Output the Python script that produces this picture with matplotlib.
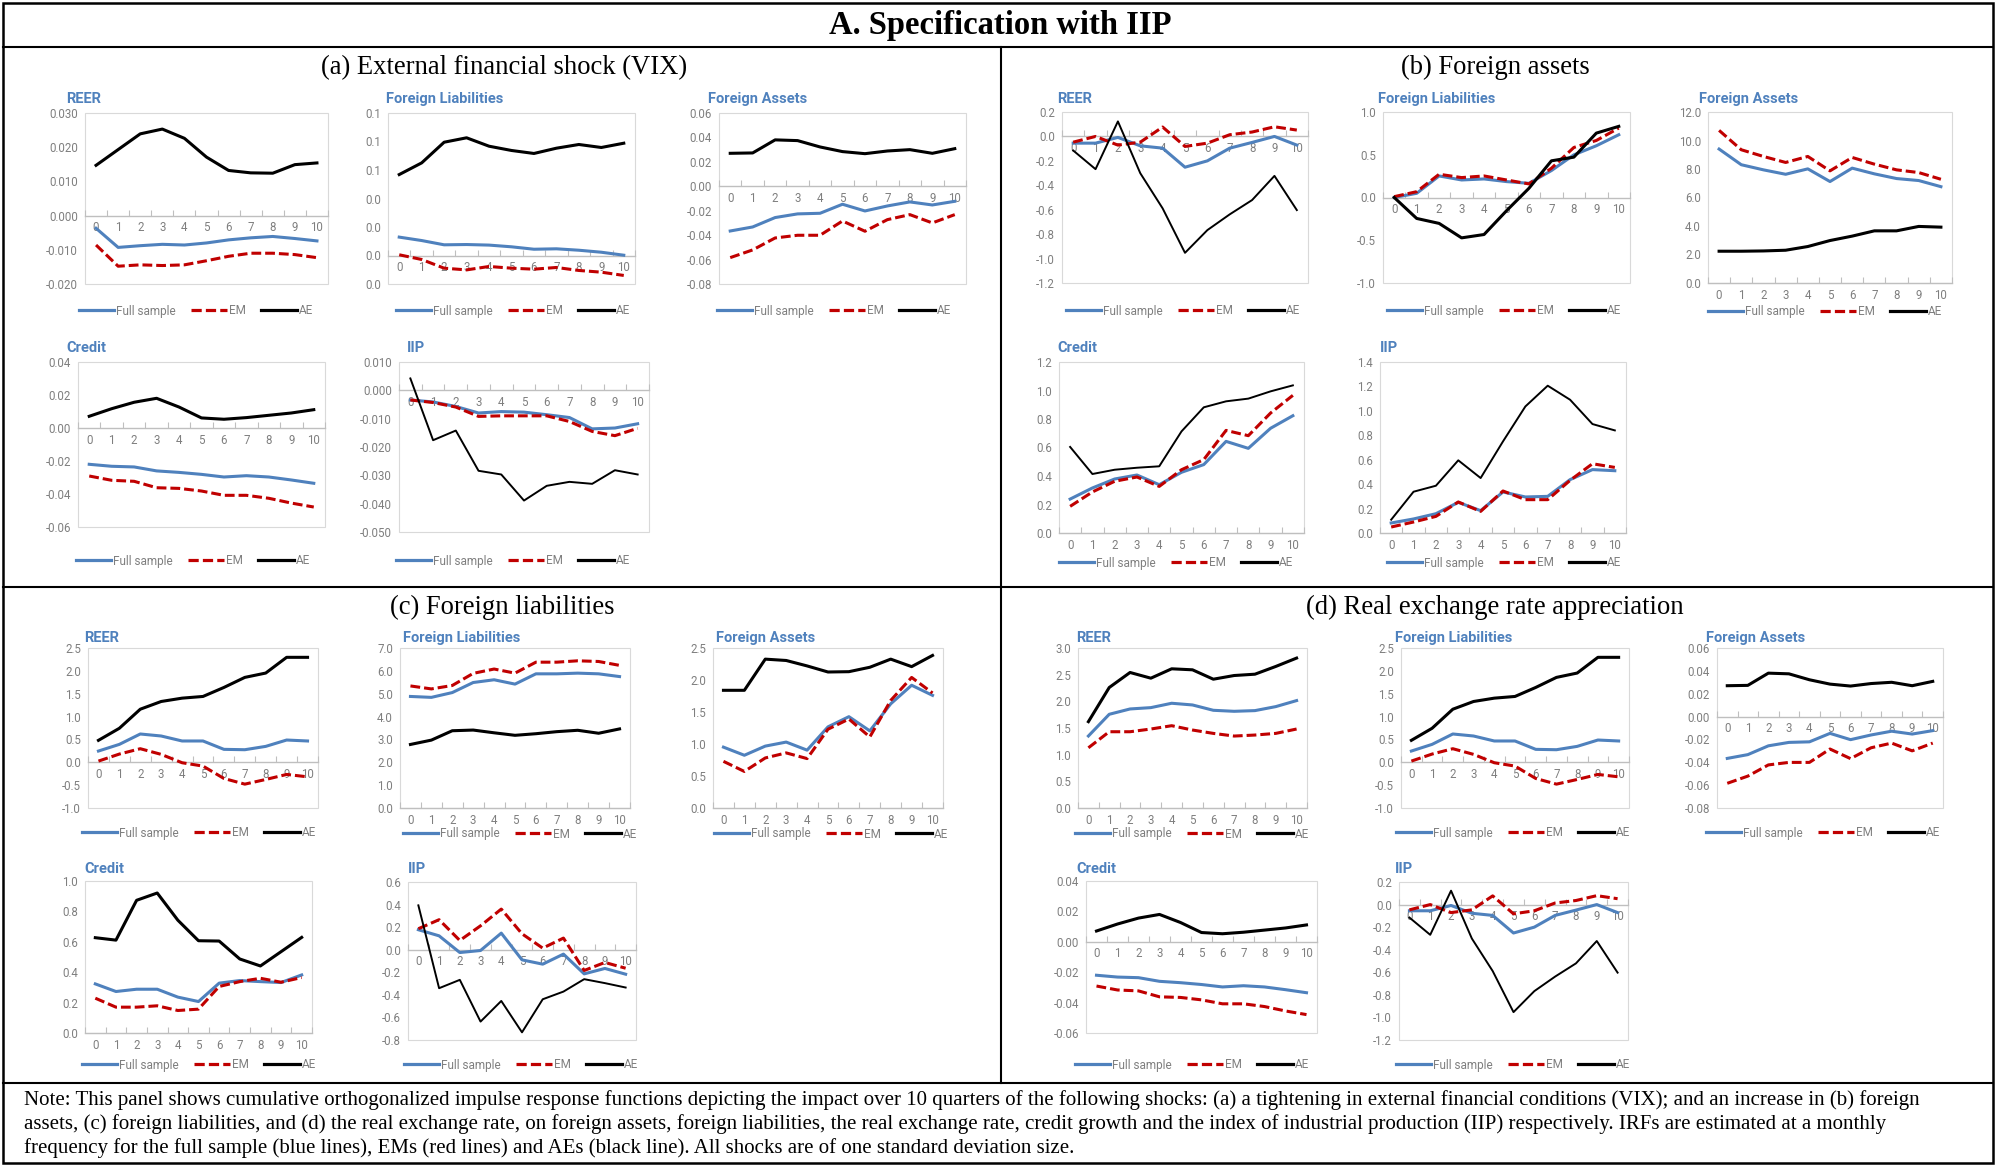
import numpy as np
import matplotlib
matplotlib.use("Agg")
import matplotlib.pyplot as plt
from matplotlib.lines import Line2D
from matplotlib.patches import Rectangle
from matplotlib.ticker import FixedLocator, FuncFormatter

plt.rcParams["font.family"] = ["Roboto", "DejaVu Sans"]

W, H = 1997, 1165
BLUE = "#4F81BD"
RED = "#C00000"
GREY = "#7F7F7F"
DASH = (0, (3.2, 1.3))

quarters = list(range(11))
series_names = ["Full sample", "EM", "AE"]

# (a) external financial shock (VIX)
a_reer_full = [-0.0037, -0.0093, -0.0088, -0.0084, -0.0086, -0.0080, -0.0071, -0.0065, -0.0061, -0.0067, -0.0074]
a_reer_em = [-0.0086, -0.0148, -0.0144, -0.0146, -0.0144, -0.0132, -0.0119, -0.0110, -0.0110, -0.0114, -0.0123]
a_reer_ae = [0.0147, 0.0193, 0.0239, 0.0253, 0.0226, 0.0171, 0.0132, 0.0125, 0.0124, 0.0149, 0.0154]

a_fl_full = [0.0129, 0.0105, 0.0075, 0.0077, 0.0073, 0.0061, 0.0044, 0.0047, 0.0037, 0.0023, 0.0002]
a_fl_em = [0.0005, -0.0028, -0.0089, -0.0101, -0.0077, -0.0089, -0.0096, -0.0084, -0.0105, -0.0117, -0.0140]
a_fl_ae = [0.0568, 0.0650, 0.0795, 0.0826, 0.0767, 0.0737, 0.0716, 0.0753, 0.0779, 0.0758, 0.0788]

a_fa_full = [-0.0366, -0.0333, -0.0256, -0.0226, -0.0221, -0.0147, -0.0202, -0.0161, -0.0128, -0.0153, -0.0123]
a_fa_em = [-0.0584, -0.0521, -0.0423, -0.0401, -0.0401, -0.0284, -0.0368, -0.0273, -0.0232, -0.0300, -0.0232]
a_fa_ae = [0.0270, 0.0273, 0.0380, 0.0374, 0.0322, 0.0284, 0.0267, 0.0289, 0.0300, 0.0270, 0.0308]

a_credit_full = [-0.0220, -0.0232, -0.0236, -0.0260, -0.0269, -0.0281, -0.0297, -0.0289, -0.0297, -0.0315, -0.0335]
a_credit_em = [-0.0291, -0.0317, -0.0323, -0.0362, -0.0366, -0.0382, -0.0408, -0.0408, -0.0426, -0.0455, -0.0479]
a_credit_ae = [0.0071, 0.0117, 0.0156, 0.0180, 0.0127, 0.0061, 0.0053, 0.0063, 0.0077, 0.0091, 0.0111]

a_iip_full = [-0.0034, -0.0041, -0.0057, -0.0080, -0.0075, -0.0077, -0.0086, -0.0096, -0.0136, -0.0133, -0.0118]
a_iip_em = [-0.0034, -0.0043, -0.0059, -0.0092, -0.0090, -0.0090, -0.0090, -0.0110, -0.0145, -0.0160, -0.0134]
a_iip_ae = [0.0042, -0.0176, -0.0142, -0.0284, -0.0297, -0.0389, -0.0337, -0.0323, -0.0330, -0.0282, -0.0297]

# (b) foreign assets
b_reer_full = [-0.055, -0.055, -0.008, -0.077, -0.096, -0.252, -0.200, -0.096, -0.049, 0.000, -0.071]
b_reer_em = [-0.047, 0.000, -0.071, -0.047, 0.077, -0.082, -0.055, 0.014, 0.036, 0.079, 0.052]
b_reer_ae = [-0.115, -0.268, 0.123, -0.301, -0.589, -0.953, -0.767, -0.638, -0.521, -0.323, -0.603]

b_fl_full = [0.000, 0.049, 0.252, 0.205, 0.217, 0.186, 0.166, 0.315, 0.499, 0.605, 0.734]
b_fl_em = [0.010, 0.068, 0.272, 0.233, 0.252, 0.205, 0.159, 0.342, 0.585, 0.667, 0.812]
b_fl_ae = [0.000, -0.245, -0.303, -0.472, -0.433, -0.155, 0.108, 0.429, 0.472, 0.753, 0.832]

b_fa_full = [9.40, 8.30, 7.94, 7.63, 8.01, 7.12, 8.06, 7.66, 7.33, 7.19, 6.76]
b_fa_em = [10.71, 9.35, 8.88, 8.46, 8.88, 7.87, 8.81, 8.34, 7.94, 7.75, 7.28]
b_fa_ae = [2.23, 2.23, 2.25, 2.30, 2.56, 2.98, 3.29, 3.66, 3.66, 3.97, 3.92]

b_credit_full = [0.238, 0.316, 0.379, 0.407, 0.339, 0.426, 0.480, 0.643, 0.594, 0.735, 0.823]
b_credit_em = [0.187, 0.288, 0.363, 0.393, 0.327, 0.444, 0.515, 0.720, 0.683, 0.842, 0.966]
b_credit_ae = [0.604, 0.414, 0.444, 0.458, 0.468, 0.713, 0.882, 0.924, 0.943, 0.994, 1.036]

b_iip_full = [0.082, 0.115, 0.158, 0.251, 0.183, 0.336, 0.295, 0.300, 0.437, 0.519, 0.510]
b_iip_em = [0.049, 0.090, 0.136, 0.254, 0.177, 0.344, 0.273, 0.273, 0.431, 0.567, 0.537]
b_iip_ae = [0.109, 0.338, 0.387, 0.595, 0.450, 0.750, 1.036, 1.206, 1.091, 0.892, 0.840]

# (c) foreign liabilities
c_reer_full = [0.246, 0.392, 0.619, 0.575, 0.466, 0.466, 0.283, 0.275, 0.348, 0.487, 0.466]
c_reer_em = [0.026, 0.180, 0.297, 0.173, -0.010, -0.083, -0.354, -0.478, -0.376, -0.266, -0.318]
c_reer_ae = [0.480, 0.744, 1.161, 1.330, 1.403, 1.440, 1.637, 1.857, 1.952, 2.296, 2.296]

c_fl_full = [4.88, 4.84, 5.05, 5.49, 5.61, 5.42, 5.87, 5.87, 5.90, 5.87, 5.75]
c_fl_em = [5.34, 5.21, 5.36, 5.89, 6.08, 5.90, 6.38, 6.38, 6.44, 6.41, 6.24]
c_fl_ae = [2.78, 2.97, 3.38, 3.41, 3.29, 3.18, 3.25, 3.34, 3.40, 3.27, 3.46]

c_fa_full = [0.951, 0.824, 0.967, 1.030, 0.904, 1.268, 1.427, 1.205, 1.628, 1.918, 1.760]
c_fa_em = [0.729, 0.571, 0.782, 0.861, 0.772, 1.231, 1.390, 1.110, 1.681, 2.040, 1.797]
c_fa_ae = [1.839, 1.839, 2.326, 2.305, 2.220, 2.125, 2.130, 2.199, 2.326, 2.209, 2.384]

c_credit_full = [0.323, 0.273, 0.288, 0.288, 0.236, 0.207, 0.328, 0.345, 0.338, 0.332, 0.382]
c_credit_em = [0.229, 0.170, 0.170, 0.179, 0.148, 0.157, 0.306, 0.338, 0.360, 0.334, 0.365]
c_credit_ae = [0.627, 0.611, 0.873, 0.921, 0.742, 0.607, 0.605, 0.487, 0.441, 0.535, 0.629]

c_iip_full = [0.177, 0.123, -0.025, -0.007, 0.147, -0.090, -0.128, -0.039, -0.214, -0.166, -0.217]
c_iip_em = [0.186, 0.266, 0.082, 0.212, 0.360, 0.141, 0.014, 0.103, -0.184, -0.113, -0.164]
c_iip_ae = [0.393, -0.341, -0.267, -0.637, -0.454, -0.732, -0.439, -0.371, -0.261, -0.296, -0.335]

# (d) real exchange rate appreciation (other panels repeat earlier charts in the source)
d_reer_full = [1.350, 1.757, 1.857, 1.882, 1.964, 1.932, 1.832, 1.813, 1.826, 1.901, 2.014]
d_reer_em = [1.129, 1.430, 1.430, 1.481, 1.543, 1.462, 1.399, 1.349, 1.368, 1.399, 1.481]
d_reer_ae = [1.619, 2.259, 2.541, 2.434, 2.610, 2.591, 2.415, 2.484, 2.509, 2.654, 2.811]

note_lines = [
    "Note: This panel shows cumulative orthogonalized impulse response functions depicting the impact over 10 quarters of the following shocks: (a) a tightening in external financial conditions (VIX); and an increase in (b) foreign",
    "assets, (c) foreign liabilities, and (d) the real exchange rate, on foreign assets, foreign liabilities, the real exchange rate, credit growth and the index of industrial production (IIP) respectively. IRFs are estimated at a monthly",
    "frequency for the full sample (blue lines), EMs (red lines) and AEs (black line). All shocks are of one standard deviation size.",
]

# chart: series, title, plot box (l, r, t, b) px, title xy, legend xy, ymin, ymax, step, decimals, thin AE
charts = [
    ((a_reer_full, a_reer_em, a_reer_ae), "REER", (85, 328, 113, 284), (66, 99), (196, 311), -0.02, 0.03, 0.01, 3, False),
    ((a_fl_full, a_fl_em, a_fl_ae), "Foreign Liabilities", (388, 635, 113, 284), (386, 99), (513, 311), -0.02, 0.10, 0.02, 1, False),
    ((a_fa_full, a_fa_em, a_fa_ae), "Foreign Assets", (719, 966, 113, 284), (708, 99), (834, 311), -0.08, 0.06, 0.02, 2, False),
    ((a_credit_full, a_credit_em, a_credit_ae), "Credit", (78, 325, 362, 527), (66, 348), (193, 561), -0.06, 0.04, 0.02, 2, False),
    ((a_iip_full, a_iip_em, a_iip_ae), "IIP", (399, 649, 362, 532), (407, 348), (513, 561), -0.05, 0.01, 0.01, 3, True),
    ((b_reer_full, b_reer_em, b_reer_ae), "REER", (1062, 1308, 112, 283), (1057, 99), (1183, 311), -1.2, 0.2, 0.2, 1, True),
    ((b_fl_full, b_fl_em, b_fl_ae), "Foreign Liabilities", (1383, 1630, 112, 283), (1378, 99), (1504, 311), -1.0, 1.0, 0.5, 1, False),
    ((b_fa_full, b_fa_em, b_fa_ae), "Foreign Assets", (1708, 1952, 112, 283), (1699, 99), (1825, 312), 0.0, 12.0, 2.0, 1, False),
    ((b_credit_full, b_credit_em, b_credit_ae), "Credit", (1059, 1304, 362, 533), (1057, 348), (1176, 563), 0.0, 1.2, 0.2, 1, True),
    ((b_iip_full, b_iip_em, b_iip_ae), "IIP", (1380, 1626, 362, 533), (1380, 348), (1504, 563), 0.0, 1.4, 0.2, 1, True),
    ((c_reer_full, c_reer_em, c_reer_ae), "REER", (88, 318, 648, 808), (84, 638), (199, 833), -1.0, 2.5, 0.5, 1, False),
    ((c_fl_full, c_fl_em, c_fl_ae), "Foreign Liabilities", (400, 630, 648, 808), (403, 638), (520, 834), 0.0, 7.0, 1.0, 1, False),
    ((c_fa_full, c_fa_em, c_fa_ae), "Foreign Assets", (713, 943, 648, 808), (716, 638), (831, 834), 0.0, 2.5, 0.5, 1, False),
    ((c_credit_full, c_credit_em, c_credit_ae), "Credit", (85, 312, 881, 1033), (84, 869), (199, 1065), 0.0, 1.0, 0.2, 1, False),
    ((c_iip_full, c_iip_em, c_iip_ae), "IIP", (408, 636, 882, 1040), (408, 869), (521, 1065), -0.8, 0.6, 0.2, 1, True),
    ((d_reer_full, d_reer_em, d_reer_ae), "REER", (1078, 1307, 648, 808), (1076, 638), (1192, 834), 0.0, 3.0, 0.5, 1, False),
    ((c_reer_full, c_reer_em, c_reer_ae), "Foreign Liabilities", (1401, 1629, 648, 808), (1395, 638), (1513, 833), -1.0, 2.5, 0.5, 1, False),
    ((a_fa_full, a_fa_em, a_fa_ae), "Foreign Assets", (1717, 1943, 648, 808), (1706, 638), (1823, 833), -0.08, 0.06, 0.02, 2, False),
    ((a_credit_full, a_credit_em, a_credit_ae), "Credit", (1086, 1317, 881, 1033), (1076, 869), (1192, 1065), -0.06, 0.04, 0.02, 2, False),
    ((b_reer_full, b_reer_em, b_reer_ae), "IIP", (1399, 1628, 882, 1040), (1395, 869), (1513, 1065), -1.2, 0.2, 0.2, 1, True),
]


def fx(px):
    return px / W


def fy(px):
    return 1 - px / H


def make_fmt(dec):
    def f(v, pos):
        s = f"{v:.{dec}f}"
        if float(s) == 0:
            s = s.lstrip("-")
        return s
    return FuncFormatter(f)


fig = plt.figure(figsize=(W / 100, H / 100), dpi=100)

legend_handles = [
    Line2D([], [], color=BLUE, lw=2.3),
    Line2D([], [], color=RED, lw=2.3, ls=DASH),
    Line2D([], [], color="black", lw=2.3),
]

for series, name, box, txy, lxy, ymin, ymax, step, dec, thin in charts:
    full, em, ae = series
    l, r, t, b = box
    ax = fig.add_axes([fx(l), fy(b), (r - l) / W, (b - t) / H])
    ax.plot(quarters, full, color=BLUE, lw=2.2, zorder=3)
    ax.plot(quarters, em, color=RED, lw=2.2, ls=DASH, zorder=4)
    ax.plot(quarters, ae, color="black", lw=1.4 if thin else 2.2, zorder=5)
    ax.set_xlim(-0.5, 10.5)
    ax.set_ylim(ymin, ymax)
    n = int(round((ymax - ymin) / step))
    ax.yaxis.set_major_locator(FixedLocator(np.linspace(ymin, ymax, n + 1)))
    ax.yaxis.set_major_formatter(make_fmt(dec))
    ax.xaxis.set_major_locator(FixedLocator(quarters))
    ax.xaxis.set_minor_locator(FixedLocator(np.arange(-0.5, 11, 1.0)))
    for s in ax.spines.values():
        s.set_visible(False)
    ax.spines["bottom"].set_visible(True)
    ax.spines["bottom"].set_position(("data", 0))
    ax.spines["bottom"].set_color("#BFBFBF")
    ax.spines["bottom"].set_linewidth(1.0)
    ax.add_patch(Rectangle((0, 0), 1, 1, transform=ax.transAxes, fill=False,
                           ec="#D9D9D9", lw=0.8, clip_on=False, zorder=0))
    ax.tick_params(axis="x", which="major", length=0, labelsize=8.3, labelcolor=GREY, pad=4)
    ax.tick_params(axis="x", which="minor", length=4, direction="in", color="#BFBFBF", width=0.8)
    ax.tick_params(axis="y", length=0, labelsize=8.3, labelcolor=GREY, pad=5)
    fig.text(fx(txy[0]), fy(txy[1]), name, color=BLUE, fontsize=10.5, fontweight="bold", va="center")
    fig.legend(legend_handles, series_names, loc="center", bbox_to_anchor=(fx(lxy[0]), fy(lxy[1])),
               bbox_transform=fig.transFigure, ncol=3, frameon=False, fontsize=8.5, labelcolor=GREY,
               handlelength=3.0, handletextpad=0.2, columnspacing=1.3, borderpad=0)

# frame and panel dividers
fig.add_artist(Rectangle((fx(3), fy(1163)), (1990) / W, 1160 / H, transform=fig.transFigure,
                         fill=False, ec="black", lw=1.8))
for x0, y0, x1, y1 in [(3, 47, 1993, 47), (3, 587, 1993, 587), (3, 1083, 1993, 1083), (1001, 47, 1001, 1083)]:
    fig.add_artist(Line2D([fx(x0), fx(x1)], [fy(y0), fy(y1)], transform=fig.transFigure, color="black", lw=1.5))

serif = "Liberation Serif"
fig.text(fx(1000), fy(34), "A. Specification with IIP", family=serif, fontsize=23.5, fontweight="bold",
         ha="center", va="baseline")
for label, cx, by in [("(a) External financial shock (VIX)", 504, 74), ("(b) Foreign assets", 1495, 74),
                      ("(c) Foreign liabilities", 502, 614), ("(d) Real exchange rate appreciation", 1495, 614)]:
    fig.text(fx(cx), fy(by), label, family=serif, fontsize=19.2, ha="center", va="baseline")

for i, line in enumerate(note_lines):
    fig.text(fx(24), fy(1105 + 24 * i), line, family=serif, fontsize=15, ha="left", va="baseline")

fig.savefig("out.png", dpi=100)
